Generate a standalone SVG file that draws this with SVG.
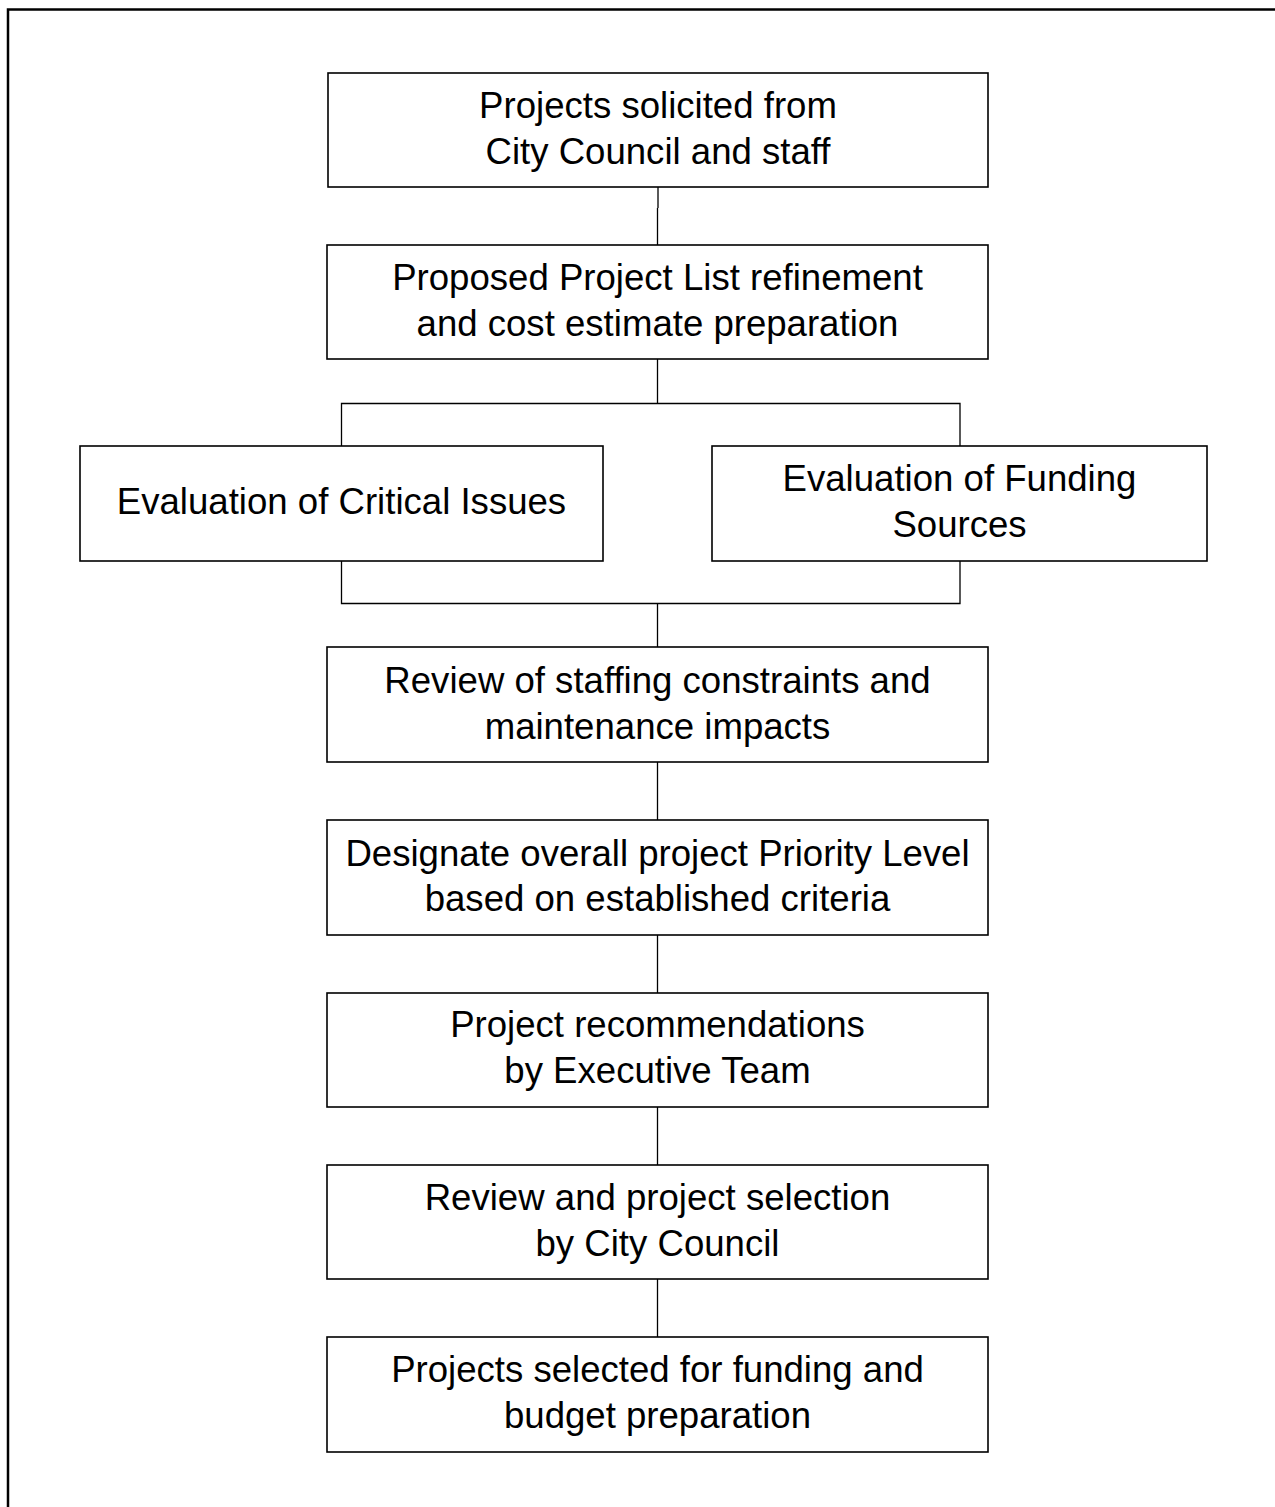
<svg xmlns="http://www.w3.org/2000/svg" width="1275" height="1507" viewBox="0 0 1275 1507">
<style>
.box{fill:#fff;stroke:#000;stroke-width:1.6}
.lbl{font-family:"Liberation Sans",Arial,sans-serif;font-size:36.6px;fill:#000;text-anchor:middle}
.con{fill:none;stroke:#000;stroke-width:1.3}
.frame{fill:none;stroke:#000;stroke-width:2.5}
</style>
<rect x="0" y="0" width="1275" height="1507" fill="#fff"/>
<path class="frame" d="M8,1507 V9.5 H1275"/>
<g id="connectors">
<path class="con" d="M658,187 V208"/>
<path class="con" d="M657.5,208 V245"/>
<path class="con" d="M657.5,359 V403.5"/>
<path class="con" d="M341.5,446 V403.5 H960 V446"/>
<path class="con" d="M341.5,561 V603.5 H960 V561"/>
<path class="con" d="M657.5,603.5 V647"/>
<path class="con" d="M657.5,762 V820"/>
<path class="con" d="M657.5,935 V993"/>
<path class="con" d="M657.5,1107 V1165"/>
<path class="con" d="M657.5,1279 V1337"/>
</g>
<g id="n1"><rect class="box" x="328" y="73" width="660" height="114"/>
<text class="lbl" x="658" y="118">Projects solicited from</text>
<text class="lbl" x="658" y="164">City Council and staff</text></g>
<g id="n2"><rect class="box" x="327" y="245" width="661" height="114"/>
<text class="lbl" x="657.5" y="290">Proposed Project List refinement</text>
<text class="lbl" x="657.5" y="336">and cost estimate preparation</text></g>
<g id="n3"><rect class="box" x="80" y="446" width="523" height="115"/>
<text class="lbl" x="341.5" y="514">Evaluation of Critical Issues</text></g>
<g id="n4"><rect class="box" x="712" y="446" width="495" height="115"/>
<text class="lbl" x="959.5" y="491">Evaluation of Funding</text>
<text class="lbl" x="959.5" y="537">Sources</text></g>
<g id="n5"><rect class="box" x="327" y="647" width="661" height="115"/>
<text class="lbl" x="657.5" y="693">Review of staffing constraints and</text>
<text class="lbl" x="657.5" y="739">maintenance impacts</text></g>
<g id="n6"><rect class="box" x="327" y="820" width="661" height="115"/>
<text class="lbl" x="657.5" y="866">Designate overall project Priority Level</text>
<text class="lbl" x="657.5" y="911">based on established criteria</text></g>
<g id="n7"><rect class="box" x="327" y="993" width="661" height="114"/>
<text class="lbl" x="657.5" y="1037">Project recommendations</text>
<text class="lbl" x="657.5" y="1083">by Executive Team</text></g>
<g id="n8"><rect class="box" x="327" y="1165" width="661" height="114"/>
<text class="lbl" x="657.5" y="1210">Review and project selection</text>
<text class="lbl" x="657.5" y="1256">by City Council</text></g>
<g id="n9"><rect class="box" x="327" y="1337" width="661" height="115"/>
<text class="lbl" x="657.5" y="1382">Projects selected for funding and</text>
<text class="lbl" x="657.5" y="1428">budget preparation</text></g>
</svg>
